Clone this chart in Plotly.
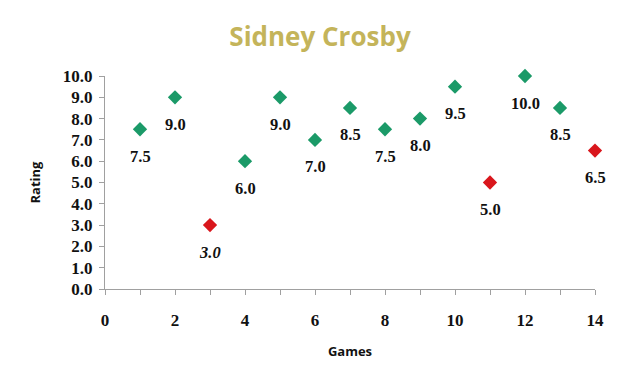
import plotly.graph_objects as go

games = [1, 2, 3, 4, 5, 6, 7, 8, 9, 10, 11, 12, 13, 14]
ratings = [7.5, 9.0, 3.0, 6.0, 9.0, 7.0, 8.5, 7.5, 8.0, 9.5, 5.0, 10.0, 8.5, 6.5]
low_games = [3, 11, 14]
y_ticks = [0, 1, 2, 3, 4, 5, 6, 7, 8, 9, 10]
x_ticks = list(range(0, 15))
x_labels = [f"<b>{v}</b>" if v % 2 == 0 else "" for v in x_ticks]

GREEN = "#1b9a68"
RED = "#d9161c"
colors = [RED if g in low_games else GREEN for g in games]

fig = go.Figure()
fig.add_trace(go.Scatter(
    x=games, y=ratings, mode="markers",
    marker=dict(symbol="diamond", size=11, color=colors),
    cliponaxis=False, hoverinfo="x+y",
))

for g, r in zip(games, ratings):
    txt = f"{r:.1f}"
    if g == 3:
        txt = f"<i>{txt}</i>"
    fig.add_annotation(x=g, y=r, text=f"<b>{txt}</b>", showarrow=False,
                       yshift=-27, font=dict(family="Liberation Serif", size=16.5, color="#111"))

fig.update_layout(
    width=640, height=385,
    margin=dict(l=97, r=53, t=68, b=104),
    paper_bgcolor="white", plot_bgcolor="white",
    showlegend=False,
    title=dict(text="<b>Sidney Crosby</b>", x=0.4875, xanchor="center", y=0.925, yanchor="middle",
               font=dict(family="Open Sans", size=26, color="#c4b45a")),
)
fig.update_xaxes(
    range=[0, 14], tickvals=x_ticks, ticktext=x_labels, automargin=False,
    showgrid=False, zeroline=False, showline=True, linecolor="#a0a0a0", linewidth=1,
    ticks="outside", ticklen=5, tickcolor="#a0a0a0",
    ticklabelstandoff=11,
    tickfont=dict(family="Liberation Serif", size=17, color="#111"),
    title=dict(text="<b>Games</b>", font=dict(family="Open Sans", size=13, color="#111"), standoff=17),
)
fig.update_yaxes(
    range=[0, 10], tickvals=y_ticks, ticktext=[f"<b>{v:.1f}</b>" for v in y_ticks], automargin=False,
    showgrid=False, zeroline=False, showline=True, linecolor="#a0a0a0", linewidth=1,
    ticks="outside", ticklen=5, tickcolor="#a0a0a0",
    ticklabelstandoff=3,
    tickfont=dict(family="Liberation Serif", size=17, color="#111"),
    title=dict(text="<b>Rating</b>", font=dict(family="Open Sans", size=13, color="#111"), standoff=19),
)

fig.write_html("out.html")
